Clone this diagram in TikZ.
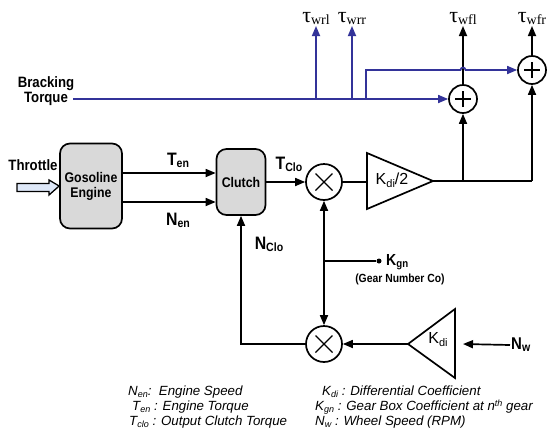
\documentclass[tikz,border=0pt]{standalone}
\usepackage{fontspec}
\setmainfont{Liberation Sans}
\newfontfamily\bsf[FakeStretch=0.88]{Liberation Sans}
\newfontfamily\serfont{Liberation Serif}
\usepackage{graphicx}
\usetikzlibrary{arrows.meta}
\definecolor{blu}{RGB}{51,51,153}
\definecolor{boxgray}{RGB}{217,217,217}
\definecolor{thr}{RGB}{222,232,248}
\newcommand\fsz[1]{\fontsize{#1}{#1}\selectfont}
\newcommand\lsub[1]{\raisebox{-2pt}{\fsz{12}#1}}
\newcommand\isub[1]{\raisebox{-2pt}{\fsz{9}#1}}
\newcommand\tlab[1]{{\serfont\fsz{22}τ}\raisebox{-2pt}{\serfont\fsz{14}#1}}
\tikzset{
  ln/.style={line width=1.7pt},
  arr/.style={ln,-{Triangle[length=10pt,width=8pt]}},
  blk/.style={draw,ln,rounded corners=10pt,fill=boxgray,align=center,font=\bsf\bfseries\fsz{14},inner sep=0pt},
  lab/.style={font=\bsf\bfseries\fsz{18},inner sep=1pt},
  taulab/.style={inner sep=1pt,anchor=south},
  leg/.style={font=\itshape\fsz{13.3},anchor=base west,inner sep=0pt},
  multnode/.style={circle,draw,ln,minimum size=36pt,inner sep=0pt,
    path picture={\draw[line width=1.4pt]
      ([xshift=-8.5pt,yshift=-8.5pt]path picture bounding box.center) -- ([xshift=8.5pt,yshift=8.5pt]path picture bounding box.center)
      ([xshift=-8.5pt,yshift=8.5pt]path picture bounding box.center) -- ([xshift=8.5pt,yshift=-8.5pt]path picture bounding box.center);}},
  sumnode/.style={circle,draw,ln,minimum size=28pt,inner sep=0pt,
    path picture={\draw[line width=2.2pt]
      ([xshift=-8pt]path picture bounding box.center) -- ([xshift=8pt]path picture bounding box.center)
      ([yshift=-8pt]path picture bounding box.center) -- ([yshift=8pt]path picture bounding box.center);}},
}
\begin{document}
\begin{tikzpicture}[x=1pt,y=-1pt]
\useasboundingbox (0,0) rectangle (547,437);

% blocks
\node[blk,minimum width=62pt,minimum height=85pt] (eng) at (91,186) {Gosoline\\[1pt]Engine};
\node[blk,minimum width=49pt,minimum height=66pt] (clu) at (241,182) {Clutch};
\node[multnode] (m1) at (324,182) {};
\node[multnode] (m2) at (324,344) {};
\node[sumnode] (s1) at (463,99) {};
\node[sumnode] (s2) at (532,70) {};

% triangles
\coordinate (t1in) at (367,182);
\coordinate (t1tip) at (433,181);
\draw[ln] (367,153) -- (t1tip) -- (367,209) -- cycle;
\node[font=\fsz{16},inner sep=0pt] (kd2) at (392,180) {K\raisebox{-3pt}{\fsz{11}di}/2};
\coordinate (t2tip) at (408,344);
\coordinate (t2r) at (455,344);
\draw[ln] (455,309) -- (t2tip) -- (455,378) -- cycle;
\node[font=\fsz{16},inner sep=0pt] (kdi) at (438,340) {K\raisebox{-3pt}{\fsz{11}di}};

% labels
\node[font=\bsf\bfseries\fsz{15},align=center,inner sep=0pt] (bt) at (46,91) {Bracking\\Torque};
\node[font=\bsf\bfseries\fsz{15},inner sep=0pt] (thl) at (33,165) {Throttle};
\node[lab] (ten) at (178,160) {T\lsub{en}};
\node[lab] (nen) at (178,220) {N\lsub{en}};
\node[lab] (tclo) at (289,164) {T\lsub{Clo}};
\node[lab] (nclo) at (269,244) {N\lsub{Clo}};
\node[circle,fill,inner sep=0pt,minimum size=5pt] (kdot) at (379,261) {};
\node[lab,anchor=west,font=\bsf\bfseries\fsz{16}] (kgn) at (385,262) {K\raisebox{-2pt}{\fsz{11}gn}};
\node[font=\bsf\bfseries\fsz{11.8},inner sep=0pt] (gnc) at (400,279) {(Gear Number Co)};
\node[lab,anchor=west,font=\bsf\bfseries\fsz{17}] (nw) at (510,345) {N\lsub{w}};

\node[taulab] (twrl) at (316,26) {\tlab{wrl}};
\node[taulab] (twrr) at (352,26) {\tlab{wrr}};
\node[taulab] (twfl) at (463,26) {\tlab{wfl}};
\node[taulab] (twfr) at (532,26) {\tlab{wfr}};

% throttle arrow
\draw[ln,line width=1.3pt,fill=thr] (17,183.5) -- (49,183.5) -- (49,180) -- (eng.west) -- (49,195) -- (49,191.5) -- (17,191.5) -- cycle;

% engine -> clutch
\coordinate (yT) at (0,173);
\coordinate (yN) at (0,202);
\draw[arr] (eng.east |- yT) -- (clu.west |- yT);
\draw[arr] (eng.east |- yN) -- (clu.west |- yN);
\draw[arr] (clu.east) -- (m1.west);
\draw[ln] (m1.east) -- (t1in);

% output of Kdi/2
\draw[ln] (t1tip) -- (s2 |- t1tip);
\draw[arr] (s1 |- t1tip) -- (s1.south);
\draw[arr] (s2 |- t1tip) -- (s2.south);
\draw[arr] (s1.north) -- (s1 |- twfl.south);
\draw[arr] (s2.north) -- (s2 |- twfr.south);

% gear number
\coordinate (jn) at (m1 |- kdot);
\draw[ln] (jn) -- (kdot);
\draw[arr] (jn) -- (m1.south);
\draw[arr] (jn) -- (m2.north);

% feedback
\draw[arr] (t2tip) -- (m2.east);
\draw[arr] (nw.west) -- ([xshift=8pt]t2r);
\draw[arr] (m2.west) -| (clu.south);

% braking torque (blue)
\coordinate (bstart) at (73,99);
\coordinate (br) at (366,99);
\draw[arr,blu] (bstart) -- (s1.west);
\draw[arr,blu] (twrl |- s1) -- (twrl.south);
\draw[arr,blu] (twrr |- s1) -- (twrr.south);
\draw[arr,blu] (br) -- (br |- s2) -- ([xshift=-2.5pt]s1 |- s2) arc[start angle=180,end angle=0,radius=2.5pt] -- (s2.west);

% legend
\node[leg] (l1) at (128,395) {N\isub{en}:\ \ Engine Speed};
\node[leg] (l2) at (132,410) {T\isub{en} : Engine Torque};
\node[leg] (l3) at (129,425) {T\isub{clo} : Output Clutch Torque};
\node[leg] (l4) at (322,395) {K\isub{di} : Differential Coefficient};
\node[leg] (l5) at (315,410) {K\isub{gn} : Gear Box Coefficient at n\raisebox{4pt}{\fsz{9}th} gear};
\node[leg] (l6) at (315,425) {N\isub{w} : Wheel Speed (RPM)};
\end{tikzpicture}
\end{document}
